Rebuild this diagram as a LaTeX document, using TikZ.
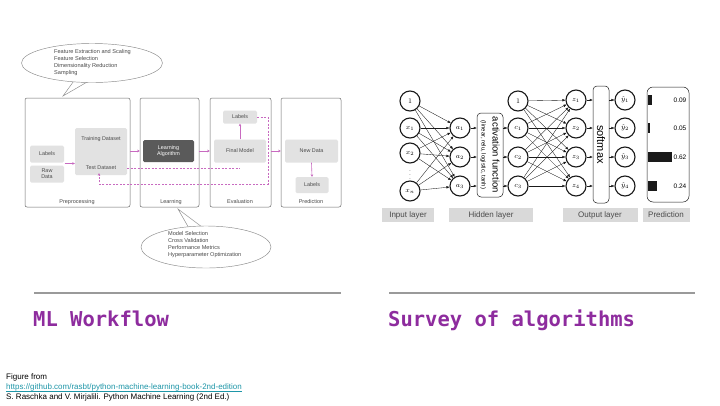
\documentclass[tikz,border=0pt]{standalone}
\usepackage{fontspec}
\setmainfont{Liberation Sans}
\newfontfamily\titlefont{DejaVu Sans Mono}
\usetikzlibrary{arrows.meta,positioning,shapes}
\definecolor{ink}{HTML}{1A1A1A}
\definecolor{inkgray}{HTML}{4A4A4A}
\definecolor{boxgray}{HTML}{E2E2E2}
\definecolor{darkbox}{HTML}{5A5A5A}
\definecolor{panelline}{HTML}{6A6A6A}
\definecolor{bubblegray}{HTML}{8A8A8A}
\definecolor{flowpink}{HTML}{C86AC0}
\definecolor{titlepurple}{HTML}{8E2C9E}
\definecolor{rulegray}{HTML}{9A9A9A}
\definecolor{linkteal}{HTML}{1E96A8}
\definecolor{labelgray}{HTML}{D9D9D9}
\tikzset{
  panel/.style={draw=panelline,line width=0.5pt,rounded corners=2pt,
                minimum height=109},
  panellabel/.style={font=\fontsize{5.5}{6}\selectfont,text=inkgray},
  wfbox/.style={fill=boxgray,rounded corners=1.5pt,align=center,
                font=\fontsize{5.4}{6.2}\selectfont,text=inkgray,inner sep=1pt},
  wftext/.style={font=\fontsize{5.4}{6.2}\selectfont,text=inkgray,inner sep=0pt},
  bubble/.style={ellipse,draw=bubblegray,fill=white,line width=0.45pt},
  bubbletext/.style={font=\fontsize{5.6}{7}\selectfont,text=inkgray,
                     align=left,anchor=west,inner sep=0pt},
  flowarr/.style={-{Stealth[length=2.5pt,width=2.6pt]},line width=0.6pt,
                  draw=flowpink},
  flowdash/.style={dashed,dash pattern=on 2pt off 1.5pt,line width=0.5pt,
                   draw=flowpink},
  neuron/.style={circle,draw=ink,fill=white,line width=1.1pt,
                 minimum size=20,inner sep=0pt,font=\fontsize{7}{8}\selectfont},
  synapse/.style={-{Latex[length=3pt,width=2.6pt]},line width=0.35pt,draw=ink},
  layerbox/.style={draw=ink,line width=0.5pt,rounded corners=4pt},
  layertag/.style={fill=labelgray,minimum height=14,inner sep=0pt,
                   font=\fontsize{8}{9}\selectfont,text=inkgray},
  probval/.style={font=\fontsize{6.5}{7}\selectfont},
  slidetitle/.style={font=\titlefont\bfseries\fontsize{20.5}{22}\selectfont,
                     text=titlepurple,anchor=base west,inner sep=0pt},
  sliderule/.style={draw=rulegray,line width=2.5pt},
  foot/.style={font=\fontsize{8}{9}\selectfont,anchor=west,inner sep=0pt}
}
\begin{document}
\begin{tikzpicture}[x=1pt,y=-1pt]
  \path[use as bounding box,fill=white] (0,0) rectangle (720,405);

  % ---- ML workflow ----
  \draw[draw=bubblegray,line width=0.45pt] (76,78) -- (63,96) -- (94,78);
  \node[bubble,minimum width=141,minimum height=39] (topbub) at (92,63) {};
  \node[bubbletext] (topbubtxt) at (54,63)
    {Feature Extraction and Scaling\\Feature Selection\\
     Dimensionality Reduction\\Sampling};

  \node[panel,minimum width=105] (prep) at (77.5,152.5) {};
  \node[panel,minimum width=59] (learn) at (169.5,152.5) {};
  \node[panel,minimum width=61] (eval) at (240.5,152.5) {};
  \node[panel,minimum width=60] (pred) at (311,152.5) {};
  \node[panellabel] at (77,202) {Preprocessing};
  \node[panellabel] at (171,202) {Learning};
  \node[panellabel] at (240,202) {Evaluation};
  \node[panellabel] at (311,202) {Prediction};

  \node[wfbox,minimum width=34,minimum height=17] (rawlab) at (47,154) {Labels};
  \node[wfbox,minimum width=34,minimum height=17] (rawdata) at (47,174)
    {Raw\\Data};
  \node[wfbox,minimum width=52,minimum height=47] (split) at (101,151.5) {};
  \node[wftext] (trainlbl) at (101,139) {Training Dataset};
  \node[wftext] (testlbl) at (101,168) {Test Dataset};
  \node[wfbox,fill=darkbox,text=white,minimum width=51,minimum height=22]
    (algo) at (168.5,151) {Learning\\Algorithm};
  \node[wfbox,minimum width=52,minimum height=23] (final) at (240,151)
    {Final Model};
  \node[wfbox,minimum width=34,minimum height=13] (evlab) at (240,117) {Labels};
  \node[wfbox,minimum width=53,minimum height=23] (newdat) at (311.5,151)
    {New Data};
  \node[wfbox,minimum width=33,minimum height=16] (prlab) at (312,185)
    {Labels};

  \coordinate (feed) at (64.5,163.5);
  \coordinate (loopR) at (268,184);
  \coordinate (loopL) at (99,184);
  \draw[flowarr] (feed) -- (feed -| split.west);
  \draw[flowarr] (prep.east |- algo) -- (learn.west |- algo);
  \draw[flowarr] (learn.east |- final) -- (eval.west |- final);
  \draw[flowarr] (final.north) -- (evlab.south);
  \draw[flowarr] (eval.east |- newdat) -- (pred.west |- newdat);
  \draw[flowarr] (newdat.south) -- (prlab.north);
  \draw[flowdash] (split.east |- testlbl) -- (final.south |- testlbl);
  \draw[flowdash,-{Stealth[length=2.5pt,width=2.6pt]}]
    (evlab.east) -| (loopR) -- (loopL) -- ([yshift=2pt]loopL |- split.south);

  \draw[draw=bubblegray,line width=0.45pt] (190,230) -- (178,209) -- (206,230);
  \node[bubble,minimum width=130,minimum height=42] (botbub) at (206,247) {};
  \node[bubbletext] (botbubtxt) at (168,245)
    {Model Selection\\Cross Validation\\Performance Metrics\\
     Hyperparameter Optimization};

  % ---- neural network ----
  \node[neuron] (i0) at (410,101) {$1$};
  \node[neuron] (i1) at (410,128) {$x_1$};
  \node[neuron] (i2) at (410,153) {$x_2$};
  \node[font=\fontsize{5}{6}\selectfont,inner sep=0pt] (idots) at (410,172)
    {$\vdots$};
  \node[neuron] (i3) at (410,191) {$x_n$};

  \node[neuron] (a1) at (460,128) {$a_1$};
  \node[neuron] (a2) at (460,157) {$a_2$};
  \node[neuron] (a3) at (460,186) {$a_3$};

  \node[layerbox,minimum width=26,minimum height=84] (act) at (490,155) {};
  \node[rotate=-90,align=center,inner sep=0pt] (acttxt) at (act)
    {{\fontsize{9.5}{10}\selectfont activation function}\\[-1pt]
     {\fontsize{6}{7}\selectfont (linear, relu, logistic, tanh)}};

  \node[neuron] (c0) at (518,101) {$1$};
  \node[neuron] (c1) at (518,128) {$c_1$};
  \node[neuron] (c2) at (518,157) {$c_2$};
  \node[neuron] (c3) at (518,186) {$c_3$};

  \node[neuron] (z1) at (576,100) {$z_1$};
  \node[neuron] (z2) at (576,128) {$z_2$};
  \node[neuron] (z3) at (576,157) {$z_3$};
  \node[neuron] (z4) at (576,186) {$z_4$};

  \node[layerbox,minimum width=16,minimum height=117] (soft) at (601,144.5) {};
  \node[rotate=-90,font=\fontsize{11}{11}\selectfont,inner sep=0pt]
    (softtxt) at (soft) {softmax};

  \node[neuron] (y1) at (625,100) {$\hat{y}_1$};
  \node[neuron] (y2) at (625,128) {$\hat{y}_2$};
  \node[neuron] (y3) at (625,157) {$\hat{y}_3$};
  \node[neuron] (y4) at (625,186) {$\hat{y}_4$};

  \node[layerbox,rounded corners=6pt,minimum width=42,minimum height=115]
    (probs) at (668,144.5) {};
  \fill[ink] (648,95) rectangle +(4,10);
  \fill[ink] (648,123) rectangle +(2,10);
  \fill[ink] (648,152) rectangle +(24,10);
  \fill[ink] (648,181) rectangle +(9,10);
  \node[probval] (p1) at (680,100) {0.09};
  \node[probval] (p2) at (680,128) {0.05};
  \node[probval] (p3) at (680,157) {0.62};
  \node[probval] (p4) at (680,186) {0.24};

  \foreach \s in {i0,i1,i2,i3}{
    \foreach \t in {a1,a2,a3}{\draw[synapse] (\s) -- (\t);}}
  \foreach \t in {a1,a2,a3}{\draw[synapse] (\t) -- (\t -| act.west);}
  \foreach \t in {c1,c2,c3}{\draw[synapse] (\t -| act.east) -- (\t);}
  \foreach \s in {c0,c1,c2,c3}{
    \foreach \t in {z1,z2,z3,z4}{\draw[synapse] (\s) -- (\t);}}
  \foreach \t in {z1,z2,z3,z4}{\draw[synapse] (\t) -- (\t -| soft.west);}
  \foreach \t in {y1,y2,y3,y4}{\draw[synapse] (\t -| soft.east) -- (\t);}

  \node[layertag,minimum width=52] (tagin) at (408,215) {Input layer};
  \node[layertag,minimum width=84] (taghid) at (491,215) {Hidden layer};
  \node[layertag,minimum width=75] (tagout) at (600,215) {Output layer};
  \node[layertag,minimum width=47] (tagpred) at (666,215) {Prediction};

  % ---- titles and footer ----
  \draw[sliderule] (34,293) -- (341,293);
  \draw[sliderule] (389,293) -- (695,293);
  \node[slidetitle] (lefttitle) at (33,326) {ML Workflow};
  \node[slidetitle] (righttitle) at (388,326) {Survey of algorithms};

  \node[foot] (figfrom) at (6,377) {Figure from};
  \node[foot,text=linkteal] (link) at (6,387)
    {https://github.com/rasbt/python-machine-learning-book-2nd-edition};
  \draw[linkteal,line width=0.6pt] ([yshift=-0.6pt]link.south west)
    -- ([yshift=-0.6pt]link.south east);
  \node[foot] (cite) at (6,397)
    {S. Raschka and V. Mirjalili. Python Machine Learning (2nd Ed.)};
\end{tikzpicture}
\end{document}
